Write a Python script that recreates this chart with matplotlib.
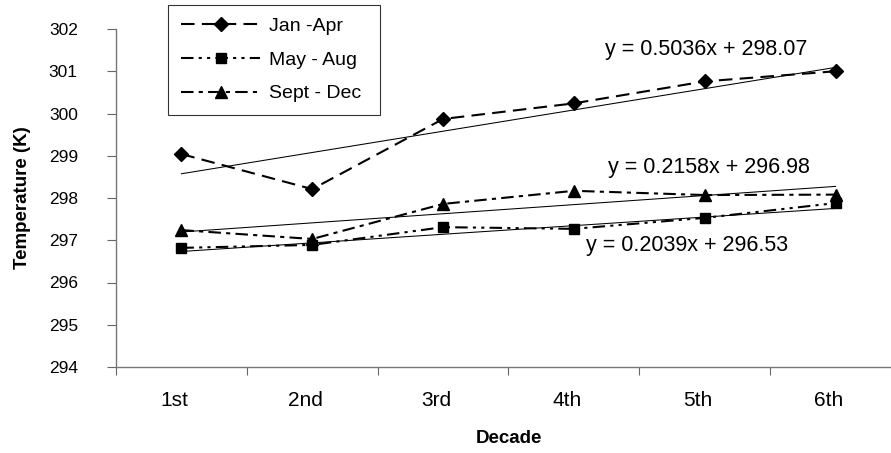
import matplotlib.pyplot as plt
import matplotlib.transforms as mtransforms
import numpy as np

# ================================
# %% Data
# ++++++++++++++++++++++++++++++++

decades = ["1st", "2nd", "3rd", "4th", "5th", "6th"]
jan_apr = [299.04, 298.21, 299.87, 300.24, 300.76, 301.00]
may_aug = [296.82, 296.89, 297.31, 297.27, 297.53, 297.88]
sep_dec = [297.24, 297.03, 297.86, 298.17, 298.07, 298.08]

# Linear trend coefficients (slope, intercept) as printed on the chart
trend_jan = (0.5036, 298.07)
trend_sep = (0.2158, 296.98)
trend_may = (0.2039, 296.53)

# ================================
# %% Plot
# ++++++++++++++++++++++++++++++++

plt.rcParams["font.family"] = ["Liberation Sans", "DejaVu Sans"]

W, H = 891, 453
fig = plt.figure(figsize=(W / 100, H / 100), dpi=100)
ax = fig.add_axes([116 / W, 1 - 367 / H, 785 / W, 338 / H])

x = np.arange(1, len(decades) + 1)

ax.plot(x, jan_apr, color="black", lw=1.5, dashes=(6.5, 3.5),
        marker="D", ms=7, label="Jan -Apr")
ax.plot(x, may_aug, color="black", lw=1.5, dashes=(6, 2.5, 1.5, 2.5, 1.5, 2.5),
        marker="s", ms=7.5, label="May - Aug")
ax.plot(x, sep_dec, color="black", lw=1.5, dashes=(6, 2.5, 2, 2.5),
        marker="^", ms=8.5, label="Sept - Dec")

for slope, icpt in (trend_jan, trend_sep, trend_may):
    ax.plot(x, slope * x + icpt, color="black", lw=0.75)

# Trend equations (pixel positions from top-left)
eq_pos = [(605, 49), (608, 168), (586, 245)]
for (px, py), (slope, icpt) in zip(eq_pos, (trend_jan, trend_sep, trend_may)):
    fig.text(px / W, 1 - py / H, f"y = {slope}x + {icpt}", fontsize=15.5,
             ha="left", va="center")

ax.set_xlim(0.5, len(decades) + 0.5)
ax.set_ylim(294, 302)
ax.set_yticks(np.arange(294, 303, 1))
ax.set_xticks(x)
ax.set_xticklabels(decades)
ax.set_xticks(np.arange(0.5, len(decades) + 0.5, 1), minor=True)
ax.tick_params(axis="x", which="major", length=0, pad=17, labelsize=15)
ax.tick_params(axis="x", which="minor", length=6, color="#666666", width=0.8)
ax.tick_params(axis="y", length=6.5, color="#666666", width=0.8, labelsize=12.5, pad=21)

shift = mtransforms.ScaledTranslation(-7 / 100, 0, fig.dpi_scale_trans)
for lbl in ax.get_xticklabels():
    lbl.set_transform(lbl.get_transform() + shift)

for side in ("top", "right"):
    ax.spines[side].set_visible(False)
for side in ("left", "bottom"):
    ax.spines[side].set_color("#777777")
    ax.spines[side].set_linewidth(1.0)

ax.set_xlabel("Decade", fontsize=13.5, fontweight="bold", labelpad=15)
ax.set_ylabel("Temperature (K)", fontsize=13.5, fontweight="bold", labelpad=13)

leg = ax.legend(loc="upper left", bbox_to_anchor=(168 / W, 1 - 110 / H, 212 / W, 105 / H),
                bbox_transform=fig.transFigure, mode="expand", fontsize=14,
                frameon=True, fancybox=False, handlelength=4.1, labelspacing=0.82,
                borderpad=0.65, handletextpad=0.45, borderaxespad=0)
leg.get_frame().set_edgecolor("black")
leg.get_frame().set_linewidth(0.8)

fig.savefig("out.png", dpi=100)
